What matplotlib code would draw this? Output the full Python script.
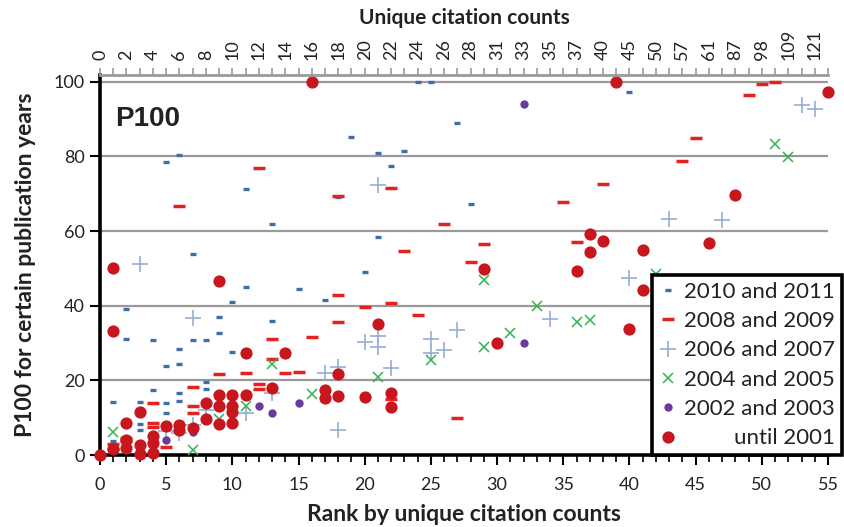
import matplotlib
matplotlib.use("Agg")
import matplotlib.pyplot as plt
import numpy as np

# ---------------- data ----------------
rank_2010 = [1,1,2,2,3,3,3,4,4,5,5,5,5,6,6,6,6,6,7,7,8,8,8,9,9,10,10,11,11,13,13,15,17,18,19,20,21,21,22,23,24,25,27,28,40]
p100_2010 = [14.3,3.7,39.2,31.1,14.3,8.3,6.7,30.7,17.4,78.6,23.8,13.8,11.2,80.3,28.5,24.5,16.5,14.6,53.8,30.8,30.8,19.5,17.7,36.9,32.6,41.0,27.7,71.3,45.1,61.9,36.0,44.6,41.5,69.0,85.1,49.0,80.9,58.3,77.3,81.4,100,100,88.9,67.2,97.2]

rank_2008 = [1,1,2,2,4,4,4,5,6,7,7,7,9,11,12,12,12,13,13,14,15,16,18,18,18,20,22,22,22,23,24,26,27,28,29,35,36,38,44,45,49,50,51]
p100_2008 = [3.0,1.5,4.6,3.7,14.0,8.7,7.6,2.2,66.7,18.3,13.1,11.2,21.7,22.0,76.9,18.9,17.6,31.0,25.7,22.0,22.2,31.7,69.3,42.8,35.6,39.6,71.4,40.6,15.0,54.7,37.6,61.9,9.9,51.8,56.5,67.8,57.0,72.6,78.8,85.0,96.5,99.3,100]

rank_2006 = [3,5,6,7,7,8,11,13,17,18,18,20,21,21,21,22,25,25,26,27,34,40,43,47,53,54]
p100_2006 = [51.3,6.5,6.0,36.8,8.0,12.0,11.2,16.5,22.0,23.7,6.7,30.2,72.2,31.9,28.9,23.2,31.1,27.2,28.1,33.5,36.5,47.5,63.2,62.9,93.7,92.8]

rank_2004 = [1,7,9,11,13,16,21,25,29,29,31,33,36,37,42,51,52]
p100_2004 = [6.1,1.3,9.6,13.2,24.5,16.3,21.0,25.4,46.8,28.8,32.7,39.9,35.5,36.2,48.4,83.2,79.9]

rank_2002 = [5,7,12,13,15,32,32]
p100_2002 = [4.1,6.2,13.0,11.2,13.8,93.9,30.0]

rank_2001 = [0,1,1,1,2,2,2,3,3,3,4,4,4,5,6,6,7,8,8,9,9,9,9,10,10,10,10,11,11,13,14,16,17,17,18,18,20,21,22,22,29,30,36,37,37,38,39,40,41,41,46,48,55]
p100_2001 = [0,50.0,33.3,1.5,8.7,4.0,1.9,11.6,2.7,0.4,5.1,3.1,0.5,7.8,8.0,6.7,7.1,14.0,9.6,46.6,16.1,13.0,8.4,16.1,13.2,11.6,8.7,27.4,16.1,17.9,27.4,100,17.4,15.4,21.7,15.8,15.6,35.1,16.5,12.8,49.9,30.0,49.3,59.3,54.4,57.2,100,33.7,54.8,44.2,56.7,69.6,97.3]

series_labels = ["2010 and 2011", "2008 and 2009", "2006 and 2007",
                 "2004 and 2005", "2002 and 2003", "until 2001"]

top_tick_labels = ['0','2','4','6','8','10','12','14','16','18','20','22','24','26','28',
                   '31','33','35','37','40','45','50','57','61','87','98','109','121']

bottom_ticks = [0, 5, 10, 15, 20, 25, 30, 35, 40, 45, 50, 55]
y_ticks = [0, 20, 40, 60, 80, 100]

# ---------------- figure ----------------
plt.rcParams['font.family'] = ['Lato', 'DejaVu Sans']
TXT = '#222222'

fig = plt.figure(figsize=(8.44, 5.27), dpi=100)
ax = fig.add_axes([100/844, 72/527, 728/844, 380/527])
ax.set_xlim(0, 55)
ax.set_ylim(0, 101.8)

for y in y_ticks[1:]:
    ax.axhline(y, color='#9a9a9a', lw=1.6, zorder=1)

styles = [
    dict(marker='_', ms=4.8, mew=2.4, color='#3d6fa6'),
    dict(marker='_', ms=8.2, mew=2.5, color='#e3211d'),
    dict(marker='+', ms=11, mew=1.2, color='#93aed6'),
    dict(marker='x', ms=7, mew=1.1, color='#2fb34c'),
    dict(marker='o', ms=6.0, mew=0, color='#6a3a9c'),
    dict(marker='o', ms=8.8, mew=0, color='#c8161e'),
]
data = [(rank_2010, p100_2010), (rank_2008, p100_2008), (rank_2006, p100_2006),
        (rank_2004, p100_2004), (rank_2002, p100_2002), (rank_2001, p100_2001)]

handles = []
for (xs, ys), st, lab in zip(data, styles, series_labels):
    h, = ax.plot(xs, ys, linestyle='none', label=lab, clip_on=False, zorder=3,
                 markeredgecolor=st['color'], **st)
    handles.append(h)

# spines
for s in ['top', 'right']:
    ax.spines[s].set_visible(False)
ax.spines['left'].set_linewidth(2.6)
ax.spines['bottom'].set_linewidth(2.6)

ax.set_xticks(bottom_ticks)
ax.set_xticks(range(0, 56), minor=True)
ax.set_yticks(y_ticks)
ax.tick_params(axis='x', which='major', length=7, width=1.5, direction='out',
               labelsize=13, colors='black', labelcolor=TXT, pad=9)
ax.tick_params(axis='x', which='minor', length=5, width=1.2, direction='out')
ax.tick_params(axis='y', which='major', length=7, width=1.5, direction='out',
               labelsize=13, labelcolor=TXT, pad=4)

ax.set_xlabel("Rank by unique citation counts", fontsize=16.5, fontweight='bold',
              color=TXT, labelpad=8)
ax.set_ylabel("P100 for certain publication years", fontsize=16.5, fontweight='bold',
              color=TXT, labelpad=13)

ax.text(0.021, 0.885, "P100", transform=ax.transAxes, fontsize=20, fontweight='bold',
        family=['Liberation Sans', 'DejaVu Sans'], color=TXT, va='center', ha='left')

# top axis
ax2 = ax.twiny()
ax2.set_xlim(ax.get_xlim())
top_pos = list(range(0, 56))
top_lab = [top_tick_labels[i // 2] if i % 2 == 0 else '' for i in top_pos]
ax2.set_xticks(top_pos)
ax2.set_xticklabels(top_lab, rotation=90)
ax2.tick_params(axis='x', length=5, width=1.2, color='#9a9a9a', labelsize=13,
                labelcolor=TXT, pad=6)
for s in ['left', 'right', 'bottom']:
    ax2.spines[s].set_visible(False)
ax2.spines['top'].set_color('#9a9a9a')
ax2.spines['top'].set_linewidth(2.0)
ax2.set_xlabel("Unique citation counts", fontsize=15, fontweight='bold', color=TXT,
               labelpad=3)

leg = ax2.legend(handles=handles, loc='lower left', bbox_to_anchor=(652/844, 72/527),
                 bbox_transform=fig.transFigure, borderaxespad=0, fontsize=16,
                 frameon=True, fancybox=False, framealpha=1, edgecolor='black',
                 handlelength=0.8, handletextpad=0.35, labelspacing=0.42,
                 borderpad=0.3, numpoints=1)
leg.get_frame().set_linewidth(2.6)
leg.set_zorder(10)
for t in leg.get_texts():
    t.set_color(TXT)

# right-align legend texts
fig.canvas.draw()
renderer = fig.canvas.get_renderer()
widths = [t.get_window_extent(renderer).width for t in leg.get_texts()]
maxw = max(widths)
for t, w in zip(leg.get_texts(), widths):
    t.set_position((maxw - w, 0))

fig.savefig("out.png", dpi=100)
